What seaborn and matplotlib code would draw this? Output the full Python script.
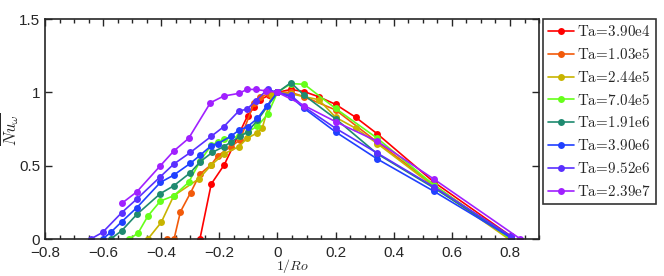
import matplotlib
matplotlib.use("Agg")
import matplotlib.pyplot as plt
from matplotlib.ticker import MultipleLocator
import seaborn as sns

# ── data: 1/Ro vs normalised Nu_omega for each Ta ───────────────────────
ta_labels = ["3.90e4", "1.03e5", "2.44e5", "7.04e5",
             "1.91e6", "3.90e6", "9.52e6", "2.39e7"]

x_39e4 = [-0.267, -0.228, -0.183, -0.103, -0.08, -0.06, -0.03, 0, 0.046, 0.092, 0.142, 0.2, 0.269, 0.344, 0.537, 0.803]
y_39e4 = [0, 0.375, 0.507, 0.84, 0.90, 0.95, 0.98, 1.0, 1.02, 1.005, 0.97, 0.918, 0.83, 0.716, 0.39, 0.02]

x_103e5 = [-0.379, -0.356, -0.334, -0.299, -0.267, -0.228, -0.206, -0.161, -0.129, -0.08, -0.06, -0.03, 0, 0.046, 0.092, 0.2, 0.344, 0.537, 0.803]
y_103e5 = [0, 0, 0.186, 0.316, 0.443, 0.507, 0.566, 0.63, 0.675, 0.93, 0.97, 0.99, 1, 1.0, 0.97, 0.88, 0.66, 0.37, 0.0]

x_244e5 = [-0.446, -0.4, -0.357, -0.271, -0.228, -0.185, -0.133, -0.105, -0.069, -0.052, -0.02, 0, 0.046, 0.142, 0.2, 0.269, 0.344, 0.537, 0.803]
y_244e5 = [0, 0.114, 0.295, 0.41, 0.504, 0.58, 0.63, 0.686, 0.725, 0.76, 0.98, 1, 0.99, 0.95, 0.83, 0.755, 0.65, 0.36, -0.01]

x_704e5 = [-0.51, -0.48, -0.446, -0.403, -0.357, -0.306, -0.266, -0.228, -0.206, -0.183, -0.133, -0.103, -0.069, -0.034, 0, 0.046, 0.092, 0.2, 0.344, 0.537, 0.803]
y_704e5 = [0, 0.04, 0.157, 0.259, 0.295, 0.386, 0.532, 0.64, 0.66, 0.68, 0.70, 0.73, 0.77, 0.85, 1, 1.06, 1.055, 0.89, 0.686, 0.37, 0.0]

x_191e6 = [-0.574, -0.536, -0.484, -0.403, -0.357, -0.3, -0.266, -0.225, -0.185, -0.161, -0.129, -0.103, -0.069, 0, 0.046, 0.092, 0.2, 0.344, 0.537, 0.803]
y_191e6 = [0, 0.057, 0.168, 0.31, 0.363, 0.452, 0.527, 0.59, 0.63, 0.66, 0.70, 0.73, 0.81, 1, 1.066, 0.98, 0.82, 0.58, 0.35, 0.01]

x_390e6 = [-0.602, -0.574, -0.536, -0.484, -0.403, -0.357, -0.3, -0.267, -0.228, -0.206, -0.161, -0.132, -0.103, -0.069, -0.037, 0, 0.046, 0.092, 0.2, 0.344, 0.537, 0.803]
y_390e6 = [0, 0.045, 0.118, 0.214, 0.386, 0.436, 0.516, 0.57, 0.636, 0.65, 0.70, 0.743, 0.766, 0.823, 0.907, 1, 0.97, 0.89, 0.73, 0.545, 0.327, 0.01]

x_952e6 = [-0.643, -0.602, -0.536, -0.484, -0.403, -0.357, -0.3, -0.228, -0.185, -0.133, -0.105, -0.075, -0.034, 0, 0.046, 0.092, 0.2, 0.344, 0.537, 0.803]
y_952e6 = [0, 0.045, 0.18, 0.273, 0.425, 0.511, 0.59, 0.70, 0.766, 0.873, 0.885, 0.943, 1.02, 1, 0.98, 0.90, 0.755, 0.585, 0.357, 0.02]

x_239e7 = [-0.536, -0.484, -0.403, -0.357, -0.306, -0.231, -0.185, -0.133, -0.105, -0.075, -0.04, 0, 0.092, 0.2, 0.344, 0.537, 0.836]
y_239e7 = [0.243, 0.322, 0.5, 0.6, 0.686, 0.929, 0.975, 0.993, 1.02, 1.02, 1.01, 1, 0.91, 0.80, 0.665, 0.41, 0.0]

xs = [x_39e4, x_103e5, x_244e5, x_704e5, x_191e6, x_390e6, x_952e6, x_239e7]
ys = [y_39e4, y_103e5, y_244e5, y_704e5, y_191e6, y_390e6, y_952e6, y_239e7]

colors = ["#ff0000", "#f25a0a", "#c8b400", "#66ff1a",
          "#1f8a70", "#2040ff", "#5a30ff", "#a020ff"]

# ── style ────────────────────────────────────────────────────────────────
sns.set_style("ticks")
plt.rcParams["font.family"] = ["Liberation Sans", "DejaVu Sans"]
plt.rcParams["mathtext.fontset"] = "cm"

fig = plt.figure(figsize=(6.64, 2.76), dpi=100)
ax = fig.add_axes([0.0678, 0.134, 0.744, 0.797])

for xv, yv, col, lab in zip(xs, ys, colors, ta_labels):
    sns.lineplot(x=xv, y=yv, ax=ax, color=col, marker="o", markersize=5,
                 markeredgewidth=0, linewidth=1.2, sort=False, estimator=None,
                 label=r"$\mathrm{Ta}\!=\!%s$" % lab.replace("e", r"\mathrm{e}"))

ax.set_xlim(-0.8, 0.9)
ax.set_ylim(0, 1.5)
ax.xaxis.set_minor_locator(MultipleLocator(0.05))
ax.set_xticks([-0.8, -0.6, -0.4, -0.2, 0, 0.2, 0.4, 0.6, 0.8])
ax.set_xticklabels(["\u22120.8", "\u22120.6", "\u22120.4", "\u22120.2", "0", "0.2", "0.4", "0.6", "0.8"])
ax.set_yticks([0, 0.5, 1, 1.5])
ax.set_yticklabels(["0", "0.5", "1", "1.5"])
ax.tick_params(which="both", direction="in", top=True, right=True, labelsize=11, width=1)
ax.tick_params(axis="x", which="major", pad=5)
ax.tick_params(which="major", length=5)
ax.tick_params(which="minor", length=3)
for sp in ax.spines.values():
    sp.set_linewidth(1.2)

ax.set_xlabel(r"$1/Ro$", fontsize=10)
ax.xaxis.set_label_coords(0.5, -0.083)
ax.set_ylabel(r"$\overline{Nu_\omega}$", fontsize=12)
ax.yaxis.set_label_coords(-0.048, 0.5)

leg = ax.legend(loc="upper left", bbox_to_anchor=(1.008, 1.0), frameon=True,
                fancybox=False, fontsize=10.8, handlelength=1.7, handletextpad=0.25,
                borderpad=0.35, labelspacing=0.52, borderaxespad=0)
leg.get_frame().set_edgecolor("black")
leg.get_frame().set_linewidth(1.2)

fig.savefig("out.png", dpi=100)
